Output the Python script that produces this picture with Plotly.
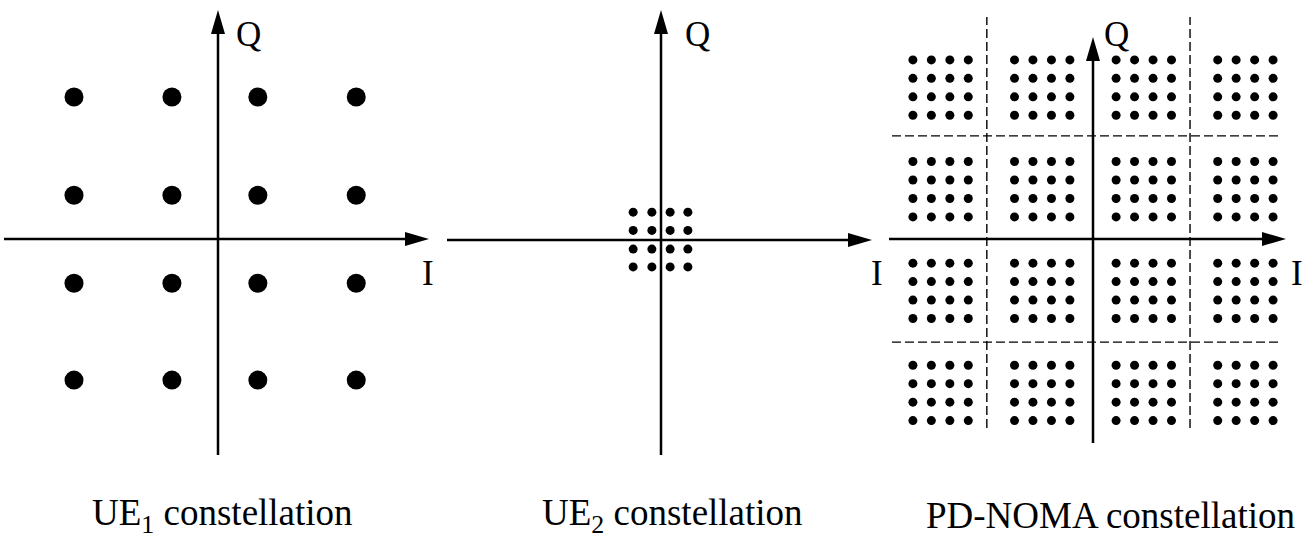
import plotly.graph_objects as go

# ---------------- data ----------------
# UE1: 16-QAM, high power (units of the UE1 panel)
ue1_i = [-3.0, -0.96, 0.83, 2.88]
ue1_q = [2.96, 0.91, -0.92, -2.94]

# UE2: 16-QAM, low power (same units as UE1)
ue2_i = [-0.58, -0.19, 0.19, 0.56]
ue2_q = [0.58, 0.20, -0.19, -0.56]

# PD-NOMA: superposition of the UE1 cluster centres and the UE2 offsets
noma_center_i = [-3.0, -1.0, 1.0, 3.0]
noma_center_q = [2.98, 0.98, -1.02, -3.03]
noma_offset = [-0.545, -0.182, 0.182, 0.545]

# decision boundaries drawn as dashed lines in the PD-NOMA panel
noma_bound_i = [-2.09, 1.91]
noma_bound_q = [2.03, -2.03]

captions = ["UE<sub>1</sub> constellation", "UE<sub>2</sub> constellation",
            "PD-NOMA constellation"]

# ---------------- layout geometry (pixels) ----------------
W, H = 1313, 537
FONT = "Liberation Serif, Times New Roman, serif"

panels = [
    # x-span of the panel, origin, pixels per unit, axis extents, label spots
    dict(x0=0, x1=440, ox=218, oy=239, unit=48.0,
         h=(4, 429), v=(455, 10), q=(248, 34), i=(428, 273), cap=222),
    dict(x0=440, x1=880, ox=661, oy=240, unit=48.0,
         h=(447, 872), v=(455, 10), q=(697, 34), i=(877, 273), cap=672),
    dict(x0=880, x1=1313, ox=1093, oy=239, unit=50.8,
         h=(889, 1286), v=(443, 37), q=(1116, 34), i=(1297, 273), cap=1110),
]

HEAD_LEN, HEAD_HALF = 24, 7
CAPTION_Y = 515

fig = go.Figure()
shapes, annotations = [], []


def to_x(p, px):
    return (px - p["ox"]) / p["unit"]


def to_y(p, py):
    return (p["oy"] - py) / p["unit"]


for k, p in enumerate(panels):
    n = "" if k == 0 else str(k + 1)
    xa, ya = "xaxis" + n, "yaxis" + n
    xr, yr = "x" + n, "y" + n
    fig.layout[xa] = dict(domain=[p["x0"] / W, p["x1"] / W],
                          range=[to_x(p, p["x0"]), to_x(p, p["x1"])],
                          visible=False, fixedrange=True, anchor=yr)
    fig.layout[ya] = dict(domain=[0, 1],
                          range=[to_y(p, H), to_y(p, 0)],
                          visible=False, fixedrange=True, anchor=xr)

    u = p["unit"]
    # I axis with arrowhead
    hx0, hx1 = to_x(p, p["h"][0]), to_x(p, p["h"][1])
    shapes.append(dict(type="line", xref=xr, yref=yr, x0=hx0, x1=hx1 - HEAD_LEN / u / 2,
                       y0=0, y1=0, line=dict(color="black", width=2.5)))
    shapes.append(dict(type="path", xref=xr, yref=yr,
                       path=f"M {hx1},0 L {hx1 - HEAD_LEN / u},{HEAD_HALF / u} "
                            f"L {hx1 - HEAD_LEN / u},{-HEAD_HALF / u} Z",
                       fillcolor="black", line=dict(width=0)))
    # Q axis with arrowhead
    vy0, vy1 = to_y(p, p["v"][0]), to_y(p, p["v"][1])
    shapes.append(dict(type="line", xref=xr, yref=yr, x0=0, x1=0,
                       y0=vy0, y1=vy1 - HEAD_LEN / u / 2,
                       line=dict(color="black", width=2.5)))
    shapes.append(dict(type="path", xref=xr, yref=yr,
                       path=f"M 0,{vy1} L {HEAD_HALF / u},{vy1 - HEAD_LEN / u} "
                            f"L {-HEAD_HALF / u},{vy1 - HEAD_LEN / u} Z",
                       fillcolor="black", line=dict(width=0)))

    annotations.append(dict(xref=xr, yref=yr, x=to_x(p, p["q"][0]), y=to_y(p, p["q"][1]),
                            text="Q", showarrow=False, xanchor="center", yanchor="middle",
                            font=dict(family=FONT, size=35, color="black")))
    annotations.append(dict(xref=xr, yref=yr, x=to_x(p, p["i"][0]), y=to_y(p, p["i"][1]),
                            text="I", showarrow=False, xanchor="center", yanchor="middle",
                            font=dict(family=FONT, size=35, color="black")))
    annotations.append(dict(xref="paper", yref="paper", x=p["cap"] / W, y=1 - CAPTION_Y / H,
                            text=captions[k], showarrow=False, xanchor="center",
                            yanchor="middle",
                            font=dict(family=FONT, size=37, color="black")))

# UE1 points
fig.add_trace(go.Scatter(
    x=[i for q in ue1_q for i in ue1_i], y=[q for q in ue1_q for _ in ue1_i],
    mode="markers", marker=dict(size=19, color="black"),
    xaxis="x", yaxis="y", hoverinfo="skip"))

# UE2 points
fig.add_trace(go.Scatter(
    x=[i for q in ue2_q for i in ue2_i], y=[q for q in ue2_q for _ in ue2_i],
    mode="markers", marker=dict(size=9, color="black"),
    xaxis="x2", yaxis="y2", hoverinfo="skip"))

# PD-NOMA points
nx, ny = [], []
for cq in noma_center_q:
    for ci in noma_center_i:
        for oq in noma_offset:
            for oi in noma_offset:
                nx.append(ci + oi)
                ny.append(cq - oq)
fig.add_trace(go.Scatter(
    x=nx, y=ny, mode="markers", marker=dict(size=9, color="black"),
    xaxis="x3", yaxis="y3", hoverinfo="skip"))

# dashed decision boundaries in the PD-NOMA panel
p3 = panels[2]
for b in noma_bound_i:
    shapes.append(dict(type="line", xref="x3", yref="y3", x0=b, x1=b,
                       y0=to_y(p3, 428), y1=to_y(p3, 17),
                       line=dict(color="black", width=1.4, dash="9px,4px")))
for b in noma_bound_q:
    shapes.append(dict(type="line", xref="x3", yref="y3", y0=b, y1=b,
                       x0=to_x(p3, 892), x1=to_x(p3, 1280),
                       line=dict(color="black", width=1.4, dash="9px,4px")))

fig.update_layout(
    width=W, height=H, margin=dict(l=0, r=0, t=0, b=0),
    paper_bgcolor="white", plot_bgcolor="white",
    showlegend=False, shapes=shapes, annotations=annotations,
)

fig.write_html("out.html", config={"displayModeBar": False})
